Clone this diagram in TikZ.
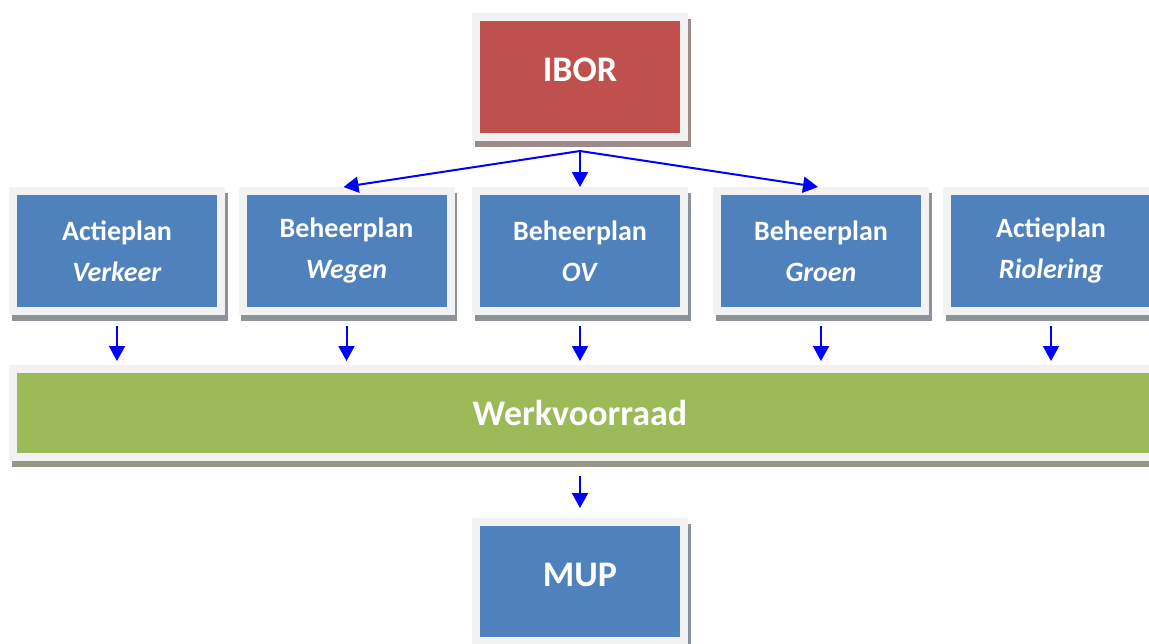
\documentclass[tikz,border=0pt]{standalone}
\usepackage{fontspec}
\setmainfont{Carlito}
\usetikzlibrary{arrows.meta,shadows}
\definecolor{iborred}{HTML}{C0504D}
\definecolor{planblue}{HTML}{4F81BD}
\definecolor{werkgreen}{HTML}{9BBB59}
\definecolor{frame}{HTML}{F2F2F2}
\definecolor{redshadow}{HTML}{9D8B8B}
\definecolor{blueshadow}{HTML}{8E939B}
\definecolor{greenshadow}{HTML}{959886}
\tikzset{
  block/.style 2 args={draw=frame, line width=8pt, fill=#1, text=white,
    font=\bfseries, align=center, inner sep=0pt,
    general shadow={fill=#2, draw=#2, line width=8pt,
      shadow xshift=2.5pt, shadow yshift=-5.5pt}},
  plan/.style={block={planblue}{blueshadow}, minimum width=208pt,
    minimum height=120pt, font=\bfseries\fontsize{28}{41}\selectfont},
  big/.style={font=\bfseries\fontsize{36}{43}\selectfont},
  raised/.style={text height=23pt, text depth=14pt},
  flow/.style={draw=blue, line width=2pt, -{Triangle[length=15pt,width=16pt]}}
}
\begin{document}
\begin{tikzpicture}[x=1pt,y=-1pt]
\useasboundingbox (0,0) rectangle (1149,643);
\node (ibor) at (580,77) [block={iborred}{redshadow}, big, raised, minimum width=208pt, minimum height=120pt] {IBOR};
\node (verkeer) at (117,251) [plan] {Actieplan\\\textit{Verkeer}};
\node (wegen) at (346.5,251) [plan] {Beheerplan\\\textit{Wegen}};
\node (ov) at (580,251) [plan] {Beheerplan\\\textit{OV}};
\node (groen) at (821,251) [plan] {Beheerplan\\\textit{Groen}};
\node (riool) at (1051,251) [plan] {Actieplan\\\textit{Riolering}};
\node (werk) at (591.5,413) [block={werkgreen}{greenshadow}, big, minimum width=1157pt, minimum height=88pt] {\hspace*{-23pt}Werkvoorraad};
\node (mup) at (580,581.5) [block={planblue}{blueshadow}, big, raised, minimum width=208pt, minimum height=119pt] {MUP};
\coordinate (split) at ([yshift=-10pt]ibor.south);
\draw[flow] (split) -- ([xshift=-3pt]wegen.north);
\draw[flow] (split) -- (ov.north);
\draw[flow] (split) -- ([xshift=-3pt]groen.north);
\foreach \p in {verkeer,wegen,ov,groen,riool}
  \draw[flow, shorten >=4pt] ([yshift=-11pt]\p.south) -- (\p.south |- werk.north);
\draw[flow, shorten >=10pt] ([yshift=-15pt]werk.south -| mup.north) -- (mup.north);
\end{tikzpicture}
\end{document}
